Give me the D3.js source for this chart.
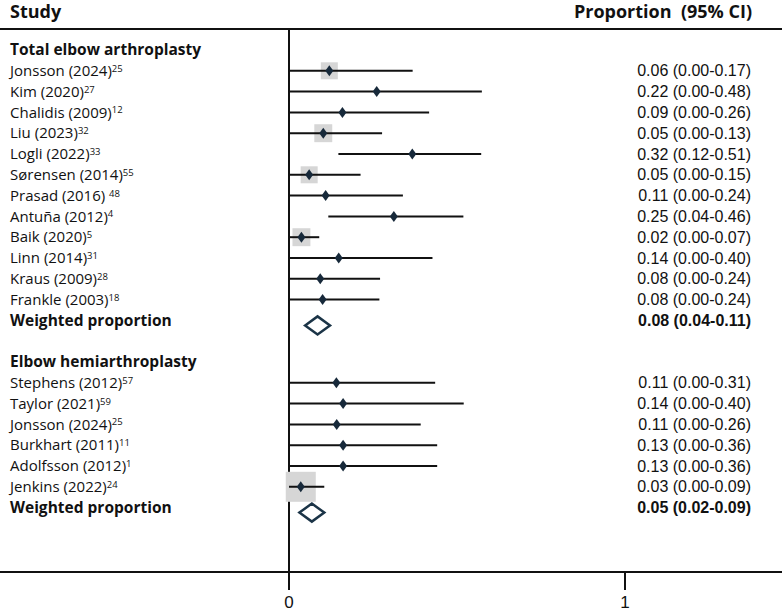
<!DOCTYPE html>
<html>
<head>
<meta charset="utf-8">
<script src="https://cdn.jsdelivr.net/npm/d3@7"></script>
<style>
  body { margin: 0; background: #fff; }
  svg { display: block; }
</style>
</head>
<body>
<svg></svg>
<script>
// Chart data (positions on the axis, text as printed)
var totalStudies = ["Jonsson (2024)", "Kim (2020)", "Chalidis (2009)", "Liu (2023)", "Logli (2022)", "Sørensen (2014)",
  "Prasad (2016) ", "Antuña (2012)", "Baik (2020)", "Linn (2014)", "Kraus (2009)", "Frankle (2003)"];
var totalRefs = ["25", "27", "12", "32", "33", "55", "48", "4", "5", "31", "28", "18"];
var totalText = ["0.06 (0.00-0.17)", "0.22 (0.00-0.48)", "0.09 (0.00-0.26)", "0.05 (0.00-0.13)", "0.32 (0.12-0.51)",
  "0.05 (0.00-0.15)", "0.11 (0.00-0.24)", "0.25 (0.04-0.46)", "0.02 (0.00-0.07)", "0.14 (0.00-0.40)",
  "0.08 (0.00-0.24)", "0.08 (0.00-0.24)"];
var totalPoint = [0.120, 0.261, 0.159, 0.102, 0.367, 0.060, 0.109, 0.312, 0.037, 0.148, 0.093, 0.100];
var totalLow   = [0, 0, 0, 0, 0.147, 0, 0, 0.117, 0, 0, 0, 0];
var totalHigh  = [0.368, 0.574, 0.417, 0.277, 0.572, 0.213, 0.339, 0.519, 0.090, 0.427, 0.271, 0.269];
var totalWeight = [9, 0, 0, 10, 0, 9, 0, 0, 10, 0, 0, 0];
var totalPooled = [0.048, 0.085, 0.122];
var totalPooledText = "0.08 (0.04-0.11)";

var hemiStudies = ["Stephens (2012)", "Taylor (2021)", "Jonsson (2024)", "Burkhart (2011)", "Adolfsson (2012)", "Jenkins (2022)"];
var hemiRefs = ["57", "59", "25", "11", "1", "24"];
var hemiText = ["0.11 (0.00-0.31)", "0.14 (0.00-0.40)", "0.11 (0.00-0.26)", "0.13 (0.00-0.36)", "0.13 (0.00-0.36)", "0.03 (0.00-0.09)"];
var hemiPoint = [0.141, 0.161, 0.142, 0.161, 0.161, 0.035];
var hemiLow   = [0, 0, 0, 0, 0, 0];
var hemiHigh  = [0.435, 0.520, 0.392, 0.441, 0.441, 0.105];
var hemiWeight = [0, 0, 0, 0, 0, 28];
var hemiPooled = [0.031, 0.068, 0.105];
var hemiPooledText = "0.05 (0.02-0.09)";

var groupNames = ["Total elbow arthroplasty", "Elbow hemiarthroplasty"];
var pooledName = "Weighted proportion";
var tickValues = [0, 1];

var width = 782, height = 611;
var leftFont = "'Open Sans', 'Noto Sans', sans-serif";
var rightFont = "'Liberation Sans', Arial, sans-serif";
var ink = "#17293a";

// build rows: header, studies, pooled, blank, header, studies, pooled
var rows = [];
function addGroup(name, studies, refs, txt, pt, lo, hi, w, pooled, pooledTxt) {
  rows.push({ type: "group", name: name });
  studies.forEach(function(s, i) {
    rows.push({ type: "study", name: s, ref: refs[i], text: txt[i], pt: pt[i], lo: lo[i], hi: hi[i], w: w[i] });
  });
  rows.push({ type: "pooled", name: pooledName, text: pooledTxt, lo: pooled[0], pt: pooled[1], hi: pooled[2] });
}
addGroup(groupNames[0], totalStudies, totalRefs, totalText, totalPoint, totalLow, totalHigh, totalWeight, totalPooled, totalPooledText);
rows.push({ type: "blank" });
addGroup(groupNames[1], hemiStudies, hemiRefs, hemiText, hemiPoint, hemiLow, hemiHigh, hemiWeight, hemiPooled, hemiPooledText);
rows.forEach(function(r, i) { r.i = i; });

var svg = d3.select("svg").attr("width", width).attr("height", height);

var x = d3.scaleLinear().domain([0, 1]).range([289, 625]);
var y = d3.scaleLinear().domain([0, rows.length - 1]).range([50, 507.6]);
var box = d3.scaleSqrt().domain([0, 28]).range([0, 30]);

var topY = 29, axisY = 572;

// header
svg.append("text")
  .attr("x", 10).attr("y", 18)
  .attr("font-family", leftFont).attr("font-size", "18px").attr("font-weight", "bold")
  .attr("fill", "#111")
  .text("Study");

svg.append("text")
  .attr("x", 752).attr("y", 18)
  .attr("text-anchor", "end")
  .attr("xml:space", "preserve")
  .attr("font-family", leftFont).attr("font-size", "18px").attr("font-weight", "bold")
  .attr("fill", "#111")
  .text("Proportion  (95% CI)");

// frame lines
svg.append("line")
  .attr("x1", 0).attr("x2", width).attr("y1", topY).attr("y2", topY)
  .attr("stroke", "#111").attr("stroke-width", 2);

svg.append("line")
  .attr("x1", x(0)).attr("x2", x(0)).attr("y1", topY).attr("y2", 590)
  .attr("stroke", "#111").attr("stroke-width", 2);

svg.append("line")
  .attr("x1", 0).attr("x2", width).attr("y1", axisY).attr("y2", axisY)
  .attr("stroke", "#111").attr("stroke-width", 2);

// ticks
var ticks = svg.append("g").attr("class", "ticks");
ticks.selectAll("line")
    .data(tickValues)
  .enter().append("line")
    .attr("x1", function(d) { return x(d); })
    .attr("x2", function(d) { return x(d); })
    .attr("y1", axisY).attr("y2", 590)
    .attr("stroke", "#111").attr("stroke-width", 2);
ticks.selectAll("text")
    .data(tickValues)
  .enter().append("text")
    .attr("x", function(d) { return x(d); })
    .attr("y", 608)
    .attr("text-anchor", "middle")
    .attr("font-family", rightFont).attr("font-size", "17px")
    .attr("fill", "#111")
    .text(function(d) { return d; });

// left labels
var labels = svg.append("g").attr("class", "labels");
var named = rows.filter(function(r) { return r.type !== "blank"; });
var lab = labels.selectAll("text")
    .data(named)
  .enter().append("text")
    .attr("x", 10)
    .attr("y", function(d) { return y(d.i); })
    .attr("dy", "0.35em")
    .attr("xml:space", "preserve")
    .attr("font-family", leftFont)
    .attr("font-size", function(d) { return d.type === "study" ? "15px" : "15.5px"; })
    .attr("font-weight", function(d) { return d.type === "study" ? "normal" : "bold"; })
    .attr("fill", "#111");
lab.append("tspan").text(function(d) { return d.name; });
lab.filter(function(d) { return d.type === "study"; })
  .append("tspan")
    .attr("dy", "-0.45em")
    .attr("font-size", "9.5px")
    .text(function(d) { return d.ref; });

// right column
svg.append("g").selectAll("text")
    .data(rows.filter(function(r) { return r.type === "study" || r.type === "pooled"; }))
  .enter().append("text")
    .attr("x", 751)
    .attr("y", function(d) { return y(d.i); })
    .attr("dy", "0.35em")
    .attr("text-anchor", "end")
    .attr("font-family", rightFont)
    .attr("font-size", "16px")
    .attr("font-weight", function(d) { return d.type === "pooled" ? "bold" : "normal"; })
    .attr("fill", "#111")
    .text(function(d) { return d.text; });

var studies = rows.filter(function(r) { return r.type === "study"; });
var plot = svg.append("g").attr("class", "plot");

// weight boxes
plot.selectAll(".box")
    .data(studies.filter(function(d) { return d.w > 0; }))
  .enter().append("rect")
    .attr("class", "box")
    .attr("x", function(d) { return x(d.pt) - box(d.w) / 2; })
    .attr("y", function(d) { return y(d.i) - box(d.w) / 2; })
    .attr("width", function(d) { return box(d.w); })
    .attr("height", function(d) { return box(d.w); })
    .attr("fill", "#d6d6d6");

// CI lines
plot.selectAll(".ci")
    .data(studies)
  .enter().append("line")
    .attr("class", "ci")
    .attr("x1", function(d) { return x(d.lo); })
    .attr("x2", function(d) { return x(d.hi); })
    .attr("y1", function(d) { return y(d.i); })
    .attr("y2", function(d) { return y(d.i); })
    .attr("stroke", "#111").attr("stroke-width", 2);

// point markers
plot.selectAll(".pt")
    .data(studies)
  .enter().append("path")
    .attr("class", "pt")
    .attr("d", function(d) {
      var cx = x(d.pt), cy = y(d.i);
      return "M" + cx + "," + (cy - 5.5) + "L" + (cx + 4) + "," + cy + "L" + cx + "," + (cy + 5.5) + "L" + (cx - 4) + "," + cy + "Z";
    })
    .attr("fill", ink);

// pooled diamonds
plot.selectAll(".pooled")
    .data(rows.filter(function(r) { return r.type === "pooled"; }))
  .enter().append("path")
    .attr("class", "pooled")
    .attr("d", function(d) {
      var cy = y(d.i) + 5;
      return "M" + x(d.lo) + "," + cy + "L" + x(d.pt) + "," + (cy - 9) + "L" + x(d.hi) + "," + cy + "L" + x(d.pt) + "," + (cy + 9) + "Z";
    })
    .attr("fill", "#fff")
    .attr("stroke", "#1b3447")
    .attr("stroke-width", 2.5);
</script>
</body>
</html>
